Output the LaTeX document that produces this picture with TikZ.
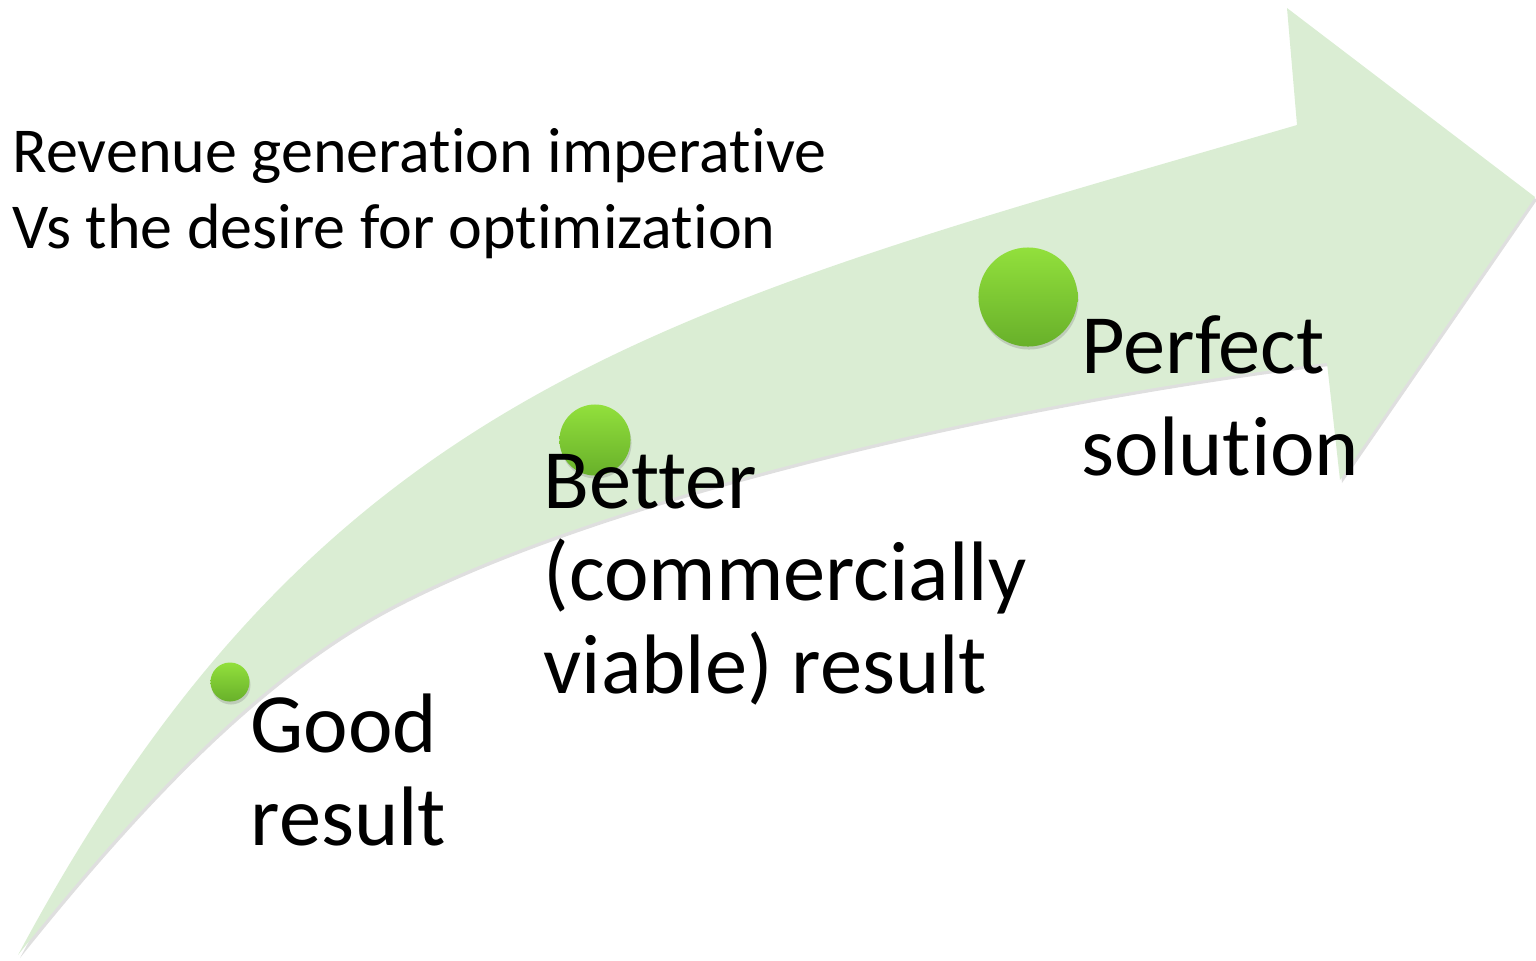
\documentclass[tikz,border=0pt]{standalone}
\usepackage{fontspec}
\setmainfont{Carlito}[Ligatures=NoCommon]
\usetikzlibrary{shadows}
\definecolor{arrowgreen}{RGB}{218,237,211}
\definecolor{dottop}{RGB}{146,224,60}
\definecolor{dotbottom}{RGB}{104,176,42}

\begin{document}
\begin{tikzpicture}[x=0.01cm, y=-0.01cm,
    dot/.style={circle, inner sep=0pt, top color=dottop, bottom color=dotbottom,
      drop shadow={shadow xshift=0.01cm, shadow yshift=-0.03cm, opacity=0.3}},
    stagetext/.style={anchor=base west, inner sep=0pt, align=left, font=\fontsize{24}{26.2}\selectfont},
    headtext/.style={anchor=base west, inner sep=0pt, align=left, font=\fontsize{18.2}{21.4}\selectfont}]
  \useasboundingbox (0,0) rectangle (1536,960);
  \fill [arrowgreen, drop shadow={shadow xshift=0.02cm, shadow yshift=-0.03cm, opacity=0.25}]
    (18,955) .. controls (324,383) and (673,307) .. (1297,125) -- (1287,8) -- (1535,197)
    -- (1340,480) -- (1327,363) .. controls (1029,399) and (620,490) .. (400,602)
    .. controls (270,668) and (150,790) .. (18,955) -- cycle;
  \node (gooddot) [dot, minimum size=0.39cm] at (230,682) {};
  \node (betterdot) [dot, minimum size=0.71cm] at (595,440) {};
  \node (perfectdot) [dot, minimum size=0.99cm] at (1028,297) {};
  % base anchor sits on the last line
  \node (tradeoff) [headtext] at (12,248) {Revenue generation imperative\\Vs the desire for optimization};
  \node (good) [stagetext] at (250,845) {Good\\result};
  \node (better) [stagetext] at (543,693) {Better\\(commercially\\viable) result};
  \node (perfect) [stagetext, font=\fontsize{24}{28.8}\selectfont] at (1081,475) {Perfect\\solution};
\end{tikzpicture}
\end{document}
